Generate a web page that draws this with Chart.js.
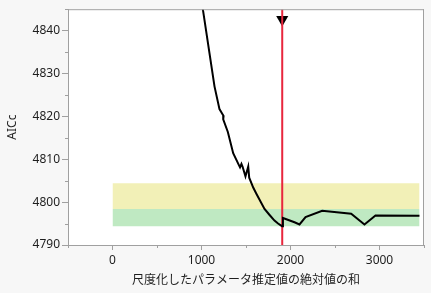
<!DOCTYPE html>
<html>
<head>
<meta charset="utf-8">
<script src="https://cdn.jsdelivr.net/npm/chart.js@4/dist/chart.umd.min.js"></script>
<style>
html,body{margin:0;padding:0;background:#f7f7f7;}
#wrap{width:431px;height:293px;}
</style>
</head>
<body>
<div id="wrap"><canvas id="c" width="431" height="293"></canvas></div>
<script>
// ---- data ----
const curveX = [980, 1015, 1090, 1146, 1202, 1228, 1248, 1244, 1296, 1356, 1419, 1433, 1449, 1461, 1494, 1525, 1536, 1581, 1618, 1708, 1765, 1820, 1860, 1905, 1915, 2045, 2101, 2169, 2356, 2682, 2831, 2955, 3449];
const curveY = [4849.6, 4845.0, 4834.7, 4827.0, 4821.7, 4820.8, 4820.1, 4819.3, 4816.35, 4811.4, 4808.7, 4808.1, 4808.9, 4808.3, 4806.0, 4808.3, 4805.7, 4803.4, 4801.9, 4798.4, 4797.0, 4795.7, 4795.0, 4794.4, 4796.3, 4795.3, 4794.8, 4796.5, 4798.0, 4797.3, 4794.8, 4796.9, 4796.8];
const selectedX = 1907;
const markerY = 4842.6;
const bandX = [0, 3450];
const bandLevels = [4804.4, 4798.4, 4794.4]; // yellow top, green top, green bottom
const xRange = [-500, 3500];
const yRange = [4790, 4845];
const xMajor = 1000, xMinor = 500;
const yMajor = 10, yMinor = 5;
const xTitle = '尺度化したパラメータ推定値の絶対値の和';
const yTitle = 'AICc';

const curve = curveX.map((x, i) => ({x, y: curveY[i]}));
const band = lvl => bandX.map(x => ({x, y: lvl}));

const AXIS = '#a0a0a0';
const TXT = '#1e1e1e';
const tickFont = {family: "'Noto Sans', 'Open Sans', sans-serif", size: 12};
const titleFontJP = {family: "'Noto Sans CJK JP', sans-serif", size: 12};

const isMajor = (v, m) => Math.abs(v / m - Math.round(v / m)) < 1e-6;

const framePlugin = {
  id: 'frame',
  beforeDraw(chart) {
    const {ctx, chartArea: a} = chart;
    ctx.save();
    ctx.fillStyle = '#f7f7f7';
    ctx.fillRect(0, 0, chart.width, chart.height);
    ctx.fillStyle = '#ffffff';
    ctx.fillRect(a.left, a.top, a.right - a.left, a.bottom - a.top);
    ctx.restore();
  },
  afterDraw(chart) {
    const {ctx, chartArea: a, scales} = chart;
    ctx.save();
    ctx.strokeStyle = AXIS;
    ctx.lineWidth = 1;
    ctx.beginPath();
    ctx.moveTo(a.left, a.top + 0.5); ctx.lineTo(a.right, a.top + 0.5);
    ctx.moveTo(a.right - 0.5, a.top); ctx.lineTo(a.right - 0.5, a.bottom);
    // minor ticks
    for (let v = yRange[0]; v <= yRange[1] + 1e-6; v += yMinor) {
      if (isMajor(v, yMajor)) continue;
      const py = Math.round(scales.y.getPixelForValue(v)) + 0.5;
      ctx.moveTo(a.left - 3, py); ctx.lineTo(a.left, py);
    }
    for (let v = xRange[0]; v <= xRange[1] + 1e-6; v += xMinor) {
      if (isMajor(v, xMajor)) continue;
      const px = Math.round(scales.x.getPixelForValue(v)) + 0.5;
      ctx.moveTo(px, a.bottom); ctx.lineTo(px, a.bottom + 3);
    }
    ctx.stroke();
    ctx.restore();
  }
};

new Chart(document.getElementById('c'), {
  type: 'scatter',
  data: {
    datasets: [
      {data: curve, showLine: true, borderColor: '#000000', borderWidth: 2, pointRadius: 0, tension: 0, fill: false},
      {data: [{x: selectedX, y: yRange[0]}, {x: selectedX, y: yRange[1]}], showLine: true, borderColor: '#e8263d', borderWidth: 2, pointRadius: 0, fill: false},
      {data: [{x: selectedX, y: markerY}], pointStyle: 'triangle', rotation: 180, pointRadius: 7, backgroundColor: '#000000', borderColor: '#000000', borderWidth: 0},
      {data: band(bandLevels[0]), showLine: true, borderWidth: 0, borderColor: 'rgba(0,0,0,0)', pointRadius: 0, fill: '+1', backgroundColor: '#f2f0b7'},
      {data: band(bandLevels[1]), showLine: true, borderWidth: 0, borderColor: 'rgba(0,0,0,0)', pointRadius: 0, fill: '+1', backgroundColor: '#bfe9c2'},
      {data: band(bandLevels[2]), showLine: true, borderWidth: 0, borderColor: 'rgba(0,0,0,0)', pointRadius: 0, fill: false}
    ]
  },
  options: {
    responsive: false,
    animation: false,
    events: [],
    layout: {padding: {left: 0, right: 7, top: 5, bottom: 0}},
    plugins: {legend: {display: false}, tooltip: {enabled: false}},
    scales: {
      x: {
        type: 'linear', min: xRange[0], max: xRange[1],
        afterFit: s => { s.height = 48; },
        border: {display: true, color: AXIS, width: 1},
        grid: {drawOnChartArea: false, drawTicks: true, tickLength: 5,
               tickColor: c => isMajor(c.tick.value, xMajor) ? AXIS : 'rgba(0,0,0,0)'},
        ticks: {stepSize: xMinor, autoSkip: false, maxRotation: 0, padding: 3, color: TXT, font: tickFont,
                callback: v => isMajor(v, xMajor) ? String(v) : ''},
        title: {display: true, text: xTitle, color: TXT, font: titleFontJP, padding: {top: 0, bottom: 6}}
      },
      y: {
        type: 'linear', min: yRange[0], max: yRange[1],
        afterFit: s => { s.width = 68; },
        border: {display: true, color: AXIS, width: 1},
        grid: {drawOnChartArea: false, drawTicks: true, tickLength: 6,
               tickColor: c => isMajor(c.tick.value, yMajor) ? AXIS : 'rgba(0,0,0,0)'},
        ticks: {stepSize: yMinor, autoSkip: false, padding: 2, color: TXT, font: tickFont,
                callback: v => isMajor(v, yMajor) ? String(v) : ''},
        title: {display: true, text: yTitle, color: TXT, font: tickFont, padding: {top: 5, bottom: 0}}
      }
    }
  },
  plugins: [framePlugin]
});
</script>
</body>
</html>
